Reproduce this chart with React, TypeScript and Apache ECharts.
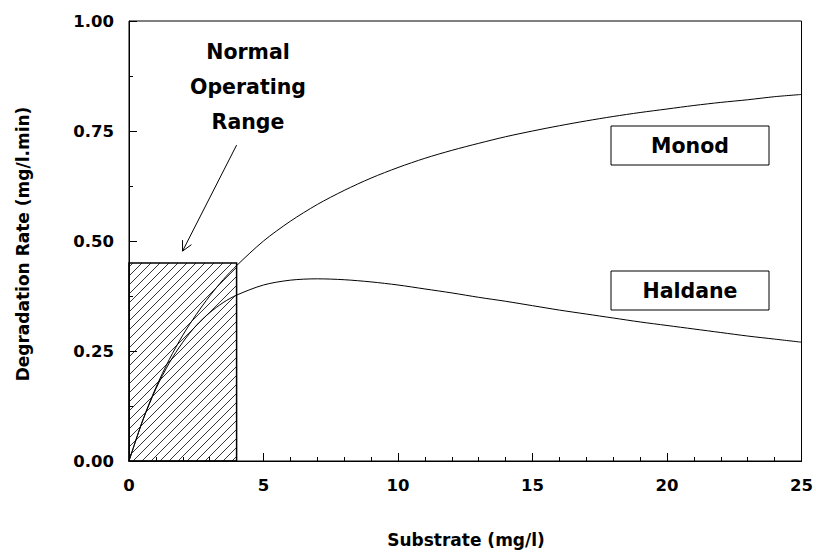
import React, { useEffect, useRef } from "react";
import * as echarts from "echarts";

const substrate = [0, 0.5, 1, 1.5, 2, 2.5, 3, 3.5, 4, 5, 6, 7, 8, 9, 10, 11, 12, 13, 14, 15, 16, 17, 18, 19, 20, 21, 22, 23, 24, 25];
const monodRate = [0, 0.091, 0.167, 0.231, 0.286, 0.333, 0.375, 0.412, 0.444, 0.5, 0.545, 0.583, 0.615, 0.643, 0.667, 0.688, 0.706, 0.722, 0.737, 0.75, 0.762, 0.773, 0.783, 0.792, 0.8, 0.808, 0.815, 0.821, 0.828, 0.833];
const haldaneRate = [0, 0.09, 0.164, 0.223, 0.27, 0.308, 0.337, 0.36, 0.377, 0.4, 0.411, 0.414, 0.412, 0.407, 0.4, 0.391, 0.382, 0.372, 0.363, 0.353, 0.343, 0.334, 0.325, 0.316, 0.308, 0.3, 0.292, 0.284, 0.277, 0.27];
const rangeX = [0, 4];
const rangeY = [0, 0.45];
const arrowFrom = [4.0, 0.718];
const arrowTo = [1.99, 0.477];
const xTickValues = [0, 5, 10, 15, 20, 25];
const yTickValues = [0, 0.25, 0.5, 0.75, 1];
const annotationLines = ["Normal", "Operating", "Range"];
const modelLabels = ["Monod", "Haldane"];

const FONT = "'DejaVu Sans', sans-serif";

export default function App() {
  const ref = useRef<HTMLDivElement>(null);
  useEffect(() => {
    if (!ref.current) return;
    const chart = echarts.init(ref.current, null, { renderer: "svg" });
    const axisText = { color: "#000", fontFamily: FONT, fontWeight: "bold" as const, fontSize: 16.5 };
    const option: any = {
      animation: false,
      backgroundColor: "#fff",
      grid: { left: 129, right: 12, top: 21, bottom: 91, show: true, borderColor: "#000", borderWidth: 1 },
      xAxis: {
        type: "value",
        min: xTickValues[0],
        max: xTickValues[xTickValues.length - 1],
        interval: 5,
        axisLine: { show: true, lineStyle: { color: "#000", width: 1 } },
        axisTick: { show: true, inside: true, length: 8, lineStyle: { color: "#000" } },
        minorTick: { show: true, splitNumber: 5, length: 4, lineStyle: { color: "#000" } },
        splitLine: { show: false },
        axisLabel: { ...axisText, margin: 16 },
      },
      yAxis: {
        type: "value",
        min: yTickValues[0],
        max: yTickValues[yTickValues.length - 1],
        interval: 0.25,
        axisLine: { show: true, lineStyle: { color: "#000", width: 1 } },
        axisTick: { show: true, inside: true, length: 8, lineStyle: { color: "#000" } },
        minorTick: { show: true, splitNumber: 2, length: 4, lineStyle: { color: "#000" } },
        splitLine: { show: false },
        axisLabel: { ...axisText, margin: 15, formatter: (v: number) => v.toFixed(2) },
      },
      graphic: [
        {
          type: "text",
          x: 23,
          y: 244,
          rotation: Math.PI / 2,
          style: {
            text: "Degradation Rate (mg/l.min)",
            fill: "#000",
            font: `bold 17px ${FONT}`,
            align: "center",
            verticalAlign: "middle",
          },
        },
        {
          type: "text",
          x: 466,
          y: 540,
          style: {
            text: "Substrate (mg/l)",
            fill: "#000",
            font: `bold 17px ${FONT}`,
            align: "center",
            verticalAlign: "middle",
          },
        },
        ...annotationLines.map((t, i) => ({
          type: "text",
          x: 248,
          y: 52 + i * 35,
          style: {
            text: t,
            fill: "#000",
            font: `bold 20.5px ${FONT}`,
            align: "center",
            verticalAlign: "middle",
          },
        })),
        ...modelLabels.map((t, i) => ({
          type: "group",
          x: 611,
          y: i === 0 ? 126 : 271,
          children: [
            {
              type: "rect",
              shape: { x: 0, y: 0, width: 158, height: 39 },
              style: { fill: "#fff", stroke: "#000", lineWidth: 1 },
            },
            {
              type: "text",
              x: 79,
              y: 19.5,
              style: {
                text: t,
                fill: "#000",
                font: `bold 20.5px ${FONT}`,
                align: "center",
                verticalAlign: "middle",
              },
            },
          ],
        })),
      ],
      series: [
        {
          type: "custom",
          name: "range",
          clip: false,
          z: 1,
          data: [[rangeX[0], rangeY[0], rangeX[1], rangeY[1]]],
          renderItem: (params: any, api: any) => {
            const tl = api.coord([api.value(0), api.value(3)]);
            const br = api.coord([api.value(2), api.value(1)]);
            const x0 = tl[0], y0 = tl[1], x1 = br[0], y1 = br[1];
            const step = 9;
            const children: any[] = [];
            for (let c = x0 + y0 + 4; c < x1 + y1; c += step) {
              const xa = Math.max(x0, c - y1);
              const xb = Math.min(x1, c - y0);
              if (xb > xa) {
                children.push({
                  type: "line",
                  shape: { x1: xa, y1: c - xa, x2: xb, y2: c - xb },
                  style: { stroke: "#000", lineWidth: 0.8 },
                });
              }
            }
            children.push({
              type: "rect",
              shape: { x: x0, y: y0, width: x1 - x0, height: y1 - y0 },
              style: { fill: "none", stroke: "#000", lineWidth: 1.5 },
            });
            return { type: "group", children };
          },
        },
        {
          type: "custom",
          name: "arrow",
          clip: false,
          z: 3,
          data: [[arrowFrom[0], arrowFrom[1], arrowTo[0], arrowTo[1]]],
          renderItem: (params: any, api: any) => {
            const a = api.coord([api.value(0), api.value(1)]);
            const b = api.coord([api.value(2), api.value(3)]);
            const dx = a[0] - b[0], dy = a[1] - b[1];
            const len = Math.sqrt(dx * dx + dy * dy);
            const ux = dx / len, uy = dy / len;
            const ang = (27 * Math.PI) / 180;
            const hl = 11;
            const rot = (s: number) => [
              b[0] + hl * (ux * Math.cos(s * ang) - uy * Math.sin(s * ang)),
              b[1] + hl * (ux * Math.sin(s * ang) + uy * Math.cos(s * ang)),
            ];
            const p1 = rot(1), p2 = rot(-1);
            return {
              type: "group",
              children: [
                { type: "line", shape: { x1: a[0], y1: a[1], x2: b[0], y2: b[1] }, style: { stroke: "#000", lineWidth: 1 } },
                { type: "polyline", shape: { points: [p1, b, p2] }, style: { stroke: "#000", fill: "none", lineWidth: 1 } },
              ],
            };
          },
        },
        {
          type: "line",
          name: "Monod",
          data: substrate.map((s, i) => [s, monodRate[i]]),
          smooth: 0.3,
          showSymbol: false,
          z: 4,
          lineStyle: { color: "#000", width: 1 },
        },
        {
          type: "line",
          name: "Haldane",
          data: substrate.map((s, i) => [s, haldaneRate[i]]),
          smooth: 0.3,
          showSymbol: false,
          z: 4,
          lineStyle: { color: "#000", width: 1 },
        },
      ],
    };
    chart.setOption(option);
    return () => chart.dispose();
  }, []);
  return <div ref={ref} style={{ position: "fixed", left: 0, top: 0, width: 816, height: 552 }} />;
}
